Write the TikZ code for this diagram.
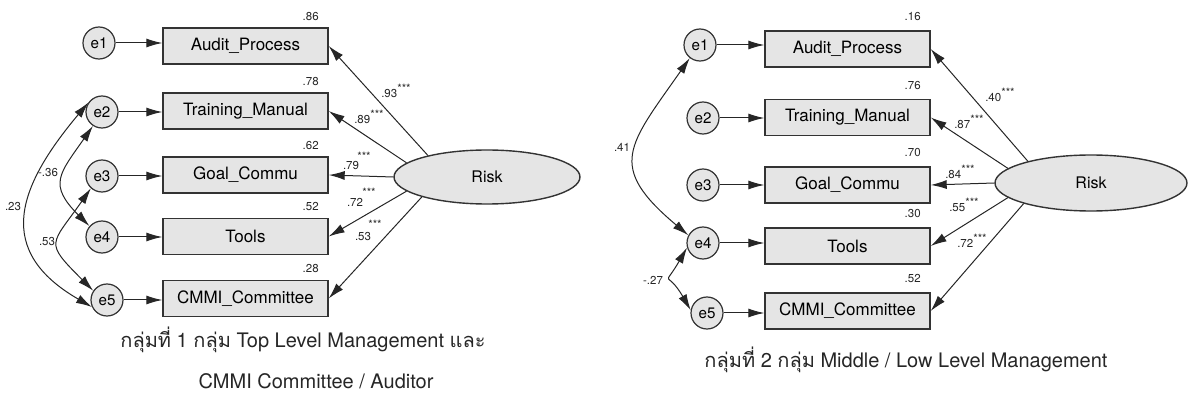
\documentclass[tikz,border=0pt]{standalone}
\usepackage{fontspec}
\setmainfont{TeX Gyre Heros}
\newfontfamily\thaifont[Script=Thai]{Loma}
\usetikzlibrary{shapes.geometric,arrows.meta}

\newcommand{\sig}{\raisebox{2.2pt}{***}}

\tikzset{
  obs/.style={draw=black!80,fill=black!10,line width=0.7pt,minimum width=82.5pt,minimum height=18pt,inner sep=0pt,font=\fontsize{8.5}{10}\selectfont},
  err/.style={circle,draw=black!80,fill=black!10,line width=0.6pt,minimum size=16pt,inner sep=0pt,font=\fontsize{7.6}{9}\selectfont},
  lat/.style={ellipse,draw=black!80,fill=black!10,line width=0.7pt,minimum width=93pt,minimum height=27pt,inner sep=0pt,font=\fontsize{8}{10}\selectfont},
  num/.style={inner sep=0pt,font=\fontsize{5.75}{7}\selectfont,text=black!85},
  arr/.style={-{Latex[length=8pt,width=4.5pt]},line width=0.5pt,draw=black!85},
  cov/.style={{Latex[length=8pt,width=4.5pt]}-{Latex[length=8pt,width=4.5pt]},line width=0.5pt,draw=black!85},
  capt/.style={anchor=base,inner sep=0pt,font=\fontsize{10}{12}\selectfont,text=black!85}
}

\begin{document}
\begin{tikzpicture}[x=0.5pt,y=0.5pt]
\useasboundingbox (0,0) rectangle (1191,397);

% group 1
\foreach \i/\ex/\ey/\by/\txt/\rsq in {1/99/354/351/Audit\_Process/.86,2/102/285/286/Training\_Manual/.78,3/102/221/222/Goal\_Commu/.62,4/102/160/160.5/Tools/.52,5/107/97/98.5/CMMI\_Committee/.28}{
  \node[obs] (Lb\i) at (245.5,\by) {\txt};
  \node[err] (Le\i) at (\ex,\ey) {e\i};
  \draw[arr] (Le\i) -- (Le\i -| Lb\i.west);
  \node[num] (Lr\i) at ([xshift=-9pt,yshift=5.5pt]Lb\i.north east) {\rsq};
}
\node[lat] (Lrisk) at (487,220) {Risk};
\foreach \i/\a in {1/160,2/170,3/180,4/190,5/197}
  \draw[arr] (Lrisk.\a) -- (Lb\i.east);
\node[num] (Ll1) at (396,306) {.93\sig};
\node[num] (Ll2) at (369,280) {.89\sig};
\node[num] (Ll3) at (351,231) {.79};
\node[num] (Ls3) at (364,241) {***};
\node[num] (Ll4) at (355,195) {.72};
\node[num] (Ls4) at (369,205) {***};
\node[num] (Ll5) at (363,160) {.53};
\node[num] (Ls5) at (375,173) {***};

\draw[cov] (Le2.145) to[out=230,in=150,looseness=1.4] (Le5.205);
\draw[cov] (Le2.237) to[out=235,in=135,looseness=1.5] (Le4.139);
\draw[cov] (Le3.228) to[out=235,in=135,looseness=1.75] (Le5.146);
\node[num] (Lc1) at (13,190) {.23};
\node[num] (Lc2) at (48,224) {-.36};
\node[num] (Lc3) at (47,155) {.53};

\node[capt] (Lcap1) at (303,49) {{\thaifont กลุ่มที่} 1 {\thaifont กลุ่ม} Top Level Management {\thaifont และ}};
\node[capt] (Lcap2) at (316,9) {CMMI Committee / Auditor};

% group 2
\foreach \i/\ex/\ey/\by/\txt/\rsq in {1/700/352/348/Audit\_Process/.16,2/703/279/279.5/Training\_Manual/.76,3/703/212/212/Goal\_Commu/.70,4/703/154/151/Tools/.30,5/707/84/86/CMMI\_Committee/.52}{
  \node[obs] (Rb\i) at (847.5,\by) {\txt};
  \node[err] (Re\i) at (\ex,\ey) {e\i};
  \draw[arr] (Re\i) -- (Re\i -| Rb\i.west);
  \node[num] (Rr\i) at ([xshift=-9pt,yshift=6.75pt]Rb\i.north east) {\rsq};
}
\node[lat,minimum width=96pt,minimum height=28pt] (Rrisk) at (1091,214) {Risk};
\foreach \i/\a in {1/161,2/170,3/180,4/190,5/197}
  \draw[arr] (Rrisk.\a) -- (Rb\i.east);
\node[num] (Rl1) at (1000,302) {.40\sig};
\node[num] (Rl2) at (969,275) {.87\sig};
\node[num] (Rl3) at (960,225) {.84\sig};
\node[num] (Rl4) at (964,192) {.55\sig};
\node[num] (Rl5) at (972,156) {.72\sig};

\draw[cov] (Re1.232) to[out=235,in=140,looseness=1.55] (Re4.152);
\draw[cov] (Re4.196) to[out=240,in=120,looseness=2] (Re5.170);
\node[num] (Rc1) at (622,250) {.41};
\node[num] (Rc2) at (653,117) {-.27};

\node[capt] (Rcap) at (906,30) {{\thaifont กลุ่มที่} 2 {\thaifont กลุ่ม} Middle / Low Level Management};
\end{tikzpicture}
\end{document}
